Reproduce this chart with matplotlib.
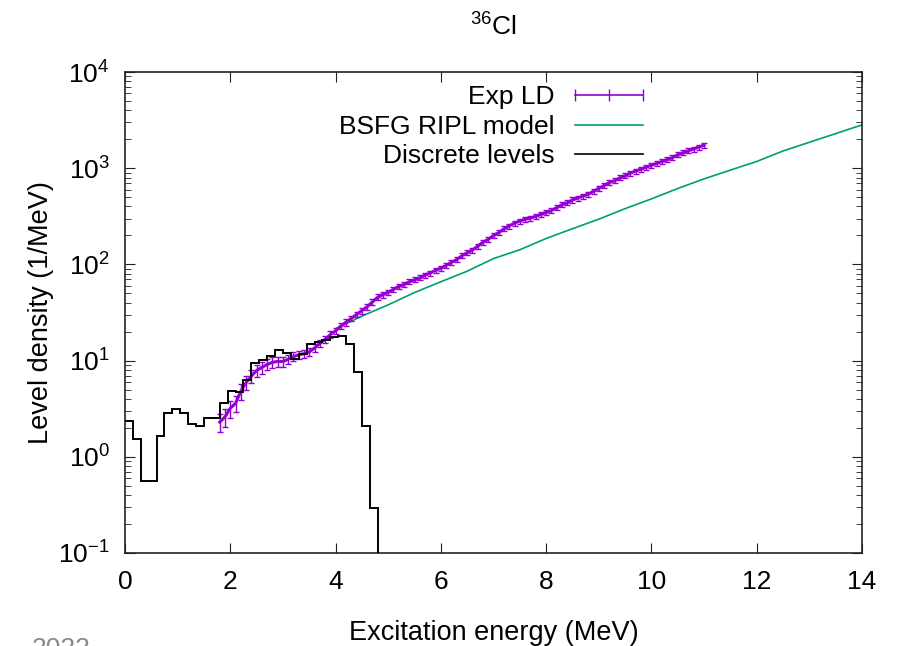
import numpy as np
import matplotlib
matplotlib.use("Agg")
import matplotlib.pyplot as plt
from matplotlib.lines import Line2D

plt.rcParams['font.family'] = ['Liberation Sans', 'DejaVu Sans']
plt.rcParams['mathtext.default'] = 'regular'

# discrete levels histogram (bin width 0.15 MeV starting at 0)
bin_width = 0.15
disc_vals = [2.33, 1.54, 0.567, 0.567, 1.65, 2.85, 3.15, 2.85, 2.19, 2.10,
             2.56, 2.56, 3.6, 4.87, 4.74, 6.3, 9.5, 10.2, 11.2, 12.9,
             12.1, 10.4, 11.7, 14.9, 15.7, 16.4, 17.6, 18.2, 14.8, 7.7,
             2.1, 0.295, 1e-3]

# experimental level density
exp_E = [1.8, 1.9, 2.0, 2.1, 2.2, 2.3, 2.4, 2.5, 2.6, 2.7,
         2.8, 2.9, 3.0, 3.1, 3.2, 3.3, 3.4, 3.5, 3.6, 3.7,
         3.8, 3.9, 4.0, 4.1, 4.2, 4.3, 4.4, 4.5, 4.6, 4.7,
         4.8, 4.9, 5.0, 5.1, 5.2, 5.3, 5.4, 5.5, 5.6, 5.7,
         5.8, 5.9, 6.0, 6.1, 6.2, 6.3, 6.4, 6.5, 6.6, 6.7,
         6.8, 6.9, 7.0, 7.1, 7.2, 7.3, 7.4, 7.5, 7.6, 7.7,
         7.8, 7.9, 8.0, 8.1, 8.2, 8.3, 8.4, 8.5, 8.6, 8.7,
         8.8, 8.9, 9.0, 9.1, 9.2, 9.3, 9.4, 9.5, 9.6, 9.7,
         9.8, 9.9, 10.0, 10.1, 10.2, 10.3, 10.4, 10.5, 10.6, 10.7,
         10.8, 10.9, 11.0]
exp_rho = [2.3, 2.6, 3.2, 3.6, 4.8, 5.9, 6.9, 7.9, 8.5, 9.1,
           9.6, 9.8, 9.8, 10.3, 11.0, 11.5, 11.8, 12.3, 13.5, 15.1,
           16.6, 18.6, 20.4, 22.9, 25.1, 27.5, 30.2, 33.1, 36.3, 40.7,
           45.5, 48.5, 51.3, 55, 58.9, 61.7, 66, 69, 72.4, 77.6,
           81.3, 87, 91.2, 97.7, 105, 112, 123, 132, 141, 155,
           170, 182, 200, 214, 234, 251, 269, 282, 295, 302,
           316, 331, 347, 363, 389, 417, 437, 468, 490, 513,
           537, 575, 617, 661, 708, 741, 794, 832, 891, 933,
           977, 1023, 1072, 1122, 1175, 1230, 1288, 1380, 1445, 1514,
           1585, 1660, 1738]
exp_relerr = [0.22, 0.21, 0.2, 0.19, 0.18, 0.17, 0.16, 0.15, 0.14, 0.13,
              0.13, 0.12, 0.12, 0.11, 0.11, 0.1, 0.1, 0.1, 0.09, 0.09,
              0.09, 0.08, 0.08, 0.08, 0.08, 0.07, 0.07, 0.07, 0.07, 0.07,
              0.07, 0.07, 0.06, 0.06, 0.06, 0.06, 0.06, 0.06, 0.06, 0.06,
              0.06, 0.06, 0.06, 0.06, 0.06, 0.06, 0.06, 0.06, 0.06, 0.06,
              0.06, 0.06, 0.06, 0.06, 0.06, 0.06, 0.06, 0.06, 0.06, 0.06,
              0.06, 0.06, 0.06, 0.06, 0.06, 0.06, 0.06, 0.06, 0.06, 0.06,
              0.06, 0.06, 0.06, 0.06, 0.06, 0.06, 0.06, 0.06, 0.06, 0.06,
              0.06, 0.06, 0.06, 0.06, 0.06, 0.06, 0.06, 0.06, 0.06, 0.06,
              0.06, 0.06, 0.06]

# BSFG RIPL model
bsfg_E = [4.0, 4.5, 5.0, 5.5, 6.0, 6.5, 7.0, 7.5, 8.0, 8.5, 9.0,
          9.5, 10.0, 10.5, 11.0, 11.5, 12.0, 12.5, 13.0, 13.5, 14.0]
bsfg_rho = [21.4, 29, 38, 51, 66, 85, 115, 142, 186, 235, 295,
            380, 480, 615, 775, 955, 1175, 1510, 1860, 2290, 2820]

purple = '#9400d3'
green = '#009e73'

fig = plt.figure(figsize=(8.97, 6.46), dpi=100)
ax = fig.add_axes([125/897, 93/646, 737/897, 481/646])

exp_rho = np.array(exp_rho)
err = exp_rho * np.array(exp_relerr)
ax.errorbar(exp_E, exp_rho, yerr=err, fmt='none', ecolor=purple, elinewidth=1.0,
            capsize=2.5, capthick=1.0, zorder=3)
ax.plot(exp_E, exp_rho, color=purple, lw=2.2, zorder=3)

ax.plot(bsfg_E, bsfg_rho, color=green, lw=1.2, zorder=2)

edges = np.arange(len(disc_vals) + 1) * bin_width
ax.stairs(disc_vals, edges, color='black', lw=1.4, baseline=None, zorder=4)

ax.set_yscale('log')
ax.set_xlim(0, 14)
ax.set_ylim(0.1, 1e4)
ax.set_xticks(range(0, 15, 2))
ax.tick_params(which='both', direction='in', top=True, right=True, labelsize=19,
               color='#222222')
ax.tick_params(which='major', length=7)
ax.tick_params(axis='x', which='major', pad=12)
ax.tick_params(axis='y', which='major', pad=11)
ax.tick_params(which='minor', length=4)
for s in ax.spines.values():
    s.set_color('#222222')
    s.set_linewidth(1.2)

ax.set_xlabel('Excitation energy (MeV)', fontsize=19.5, labelpad=19)
ax.set_ylabel('Level density (1/MeV)', fontsize=19.5, labelpad=3)
ax.set_title(r'$^{36}$Cl', fontsize=19, pad=26)

handles = [Line2D([], [], color=purple, lw=1.2, marker='|', markersize=8),
           Line2D([], [], color=green, lw=1.2),
           Line2D([], [], color='black', lw=1.2)]
labels = ['Exp LD', 'BSFG RIPL model', 'Discrete levels']
ax.legend(handles, labels, loc='upper right', bbox_to_anchor=(0.714, 0.972),
          frameon=False, markerfirst=False, numpoints=3, fontsize=19,
          handlelength=3.2, labelspacing=0.2, handletextpad=0.45,
          borderpad=0, borderaxespad=0)

fig.text(32/897, 1 - 637/646, '2022', fontsize=19, color='#888888', va='top')

fig.savefig('out.png', dpi=100)
